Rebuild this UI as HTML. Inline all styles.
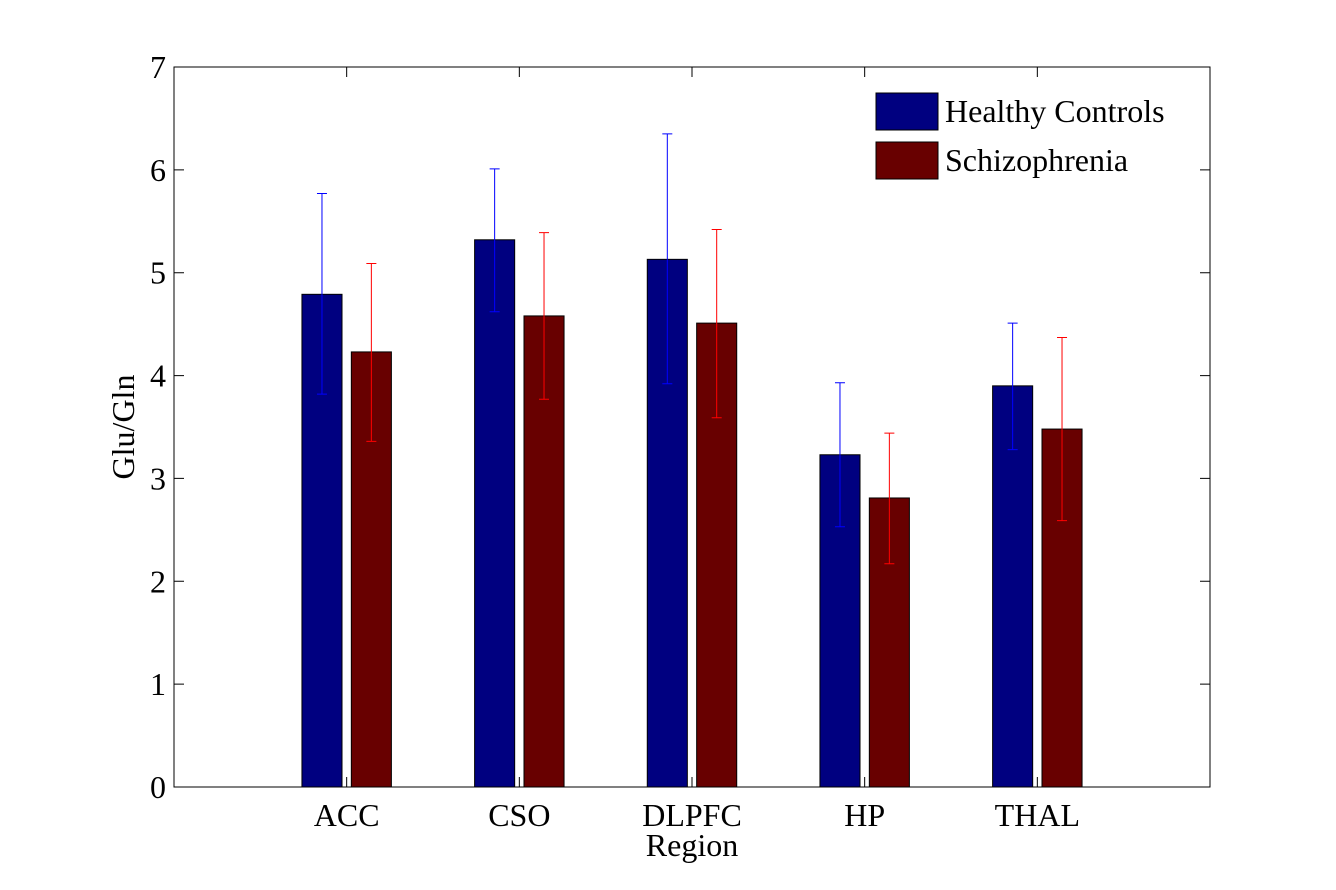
<!DOCTYPE html>
<html><head><meta charset="utf-8"><style>
html,body{margin:0;padding:0;background:#fff;}
svg text{font-family:"Liberation Serif",serif;fill:#000;}
</style></head><body>
<svg id="chart" width="1336" height="885">
<g id="plot"></g>
</svg>
<script>
const categories=["ACC","CSO","DLPFC","HP","THAL"];
const controls=[4.79,5.32,5.13,3.23,3.90];
const controlsHi=[5.77,6.01,6.35,3.93,4.51];
const controlsLo=[3.82,4.62,3.92,2.53,3.28];
const schiz=[4.23,4.58,4.51,2.81,3.48];
const schizHi=[5.09,5.39,5.42,3.44,4.37];
const schizLo=[3.36,3.77,3.59,2.17,2.59];
const yTicks=[0,1,2,3,4,5,6,7];

const L=174,R=1210,T=67,B=787;
const FS=32;
const xs=v=>L+(R-L)*v/6;
const ys=v=>B-(B-T)*v/7;
const g=document.getElementById('plot');
const NS='http://www.w3.org/2000/svg';
function mk(tag,attrs){const e=document.createElementNS(NS,tag);for(const k in attrs)e.setAttribute(k,attrs[k]);g.appendChild(e);return e;}

const bw=(R-L)/6*0.232, off=(R-L)/6*0.143;
function series(vals,hi,lo,dx,fill,ecol,name){
  vals.forEach((v,i)=>{
    const cx=xs(i+1)+dx;
    const r=mk('rect',{x:cx-bw/2,y:ys(v),width:bw,height:ys(0)-ys(v),fill:fill,stroke:'#000','stroke-width':1});
    
    
    const e=mk('path',{d:`M${cx},${ys(lo[i])}V${ys(hi[i])}M${cx-5},${ys(hi[i])}H${cx+5}M${cx-5},${ys(lo[i])}H${cx+5}`,stroke:ecol,'stroke-width':1,fill:'none'});
    
    
  });
}
series(controls,controlsHi,controlsLo,-off,'#000080','#0000ff','controls');
series(schiz,schizHi,schizLo,off,'#680000','#ff0000','schizophrenia');

const ax=mk('rect',{x:L,y:T,width:R-L,height:B-T,fill:'none',stroke:'#000','stroke-width':1});


yTicks.forEach(t=>{
  const y=ys(t);
  const tk=mk('path',{d:`M${L},${y}H${L+10}M${R},${y}H${R-10}`,stroke:'#000','stroke-width':1});
  
  
  const tx=mk('text',{x:L-8,y:y+11,'text-anchor':'end','font-size':FS});
  tx.textContent=t;
  
  
});
categories.forEach((c,i)=>{
  const x=xs(i+1);
  const tk=mk('path',{d:`M${x},${B}V${B-10}M${x},${T}V${T+10}`,stroke:'#000','stroke-width':1});
  
  
  const tx=mk('text',{x:x,y:826,'text-anchor':'middle','font-size':FS});
  tx.textContent=c;
  
  
});
const xt=mk('text',{x:692,y:856,'text-anchor':'middle','font-size':FS});
xt.textContent='Region';


const yt=mk('text',{x:0,y:0,'text-anchor':'middle','font-size':FS,transform:'translate(134,427) rotate(-90)'});
yt.textContent='Glu/Gln';



[['Healthy Controls','#000080',93],['Schizophrenia','#680000',142]].forEach(([n,c,y])=>{
  const s=mk('rect',{x:876,y:y,width:62,height:37,fill:c,stroke:'#000','stroke-width':1});
  
  
  const t=mk('text',{x:945,y:y+29,'font-size':FS});
  t.textContent=n;
  
  
});
</script>
</body></html>
